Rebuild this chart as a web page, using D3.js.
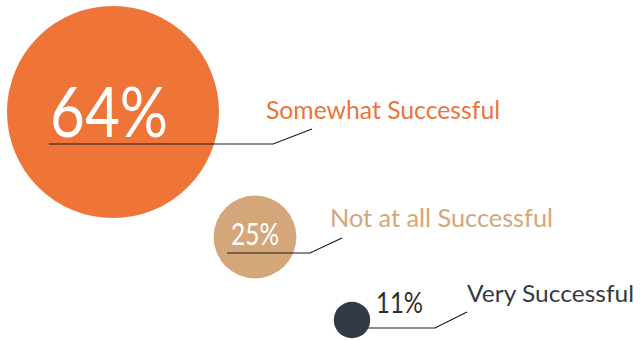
<!DOCTYPE html>
<html>
<head>
<meta charset="utf-8">
<script src="https://cdn.jsdelivr.net/npm/d3@7"></script>
<style>
  body { margin: 0; background: #fff; }
  svg { display: block; }
  text { font-family: Lato, "Noto Sans", sans-serif; font-weight: 400; }
</style>
</head>
<body>
<div id="chart"></div>
<script>
// survey answers
const categories = ["Somewhat Successful", "Not at all Successful", "Very Successful"]
const values = [64, 25, 11]
const valueLabels = ["64%", "25%", "11%"]

const colors = ["#ee7437", "#d4a77a", "#323a46"]
const pctColors = ["#ffffff", "#ffffff", "#2d2d2d"]
const labelColors = ["#ee7437", "#d4a77a", "#323a46"]

// layout of each bubble: centre, pct text, leader line, label (px)
const layout = [
    { cx: 113, cy: 112, pct: [50, 137, 70, 118], lineStart: 49, lineY: 144, elbow: 273, end: [312, 129], label: [266, 119, 25, 234] },
    { cx: 255, cy: 237, pct: [231, 245, 30, 48], lineStart: 227, lineY: 253, elbow: 310, end: [342, 238], label: [330, 227, 25, 223] },
    { cx: 352, cy: 320, pct: [376, 313, 28, 47], lineStart: 352, lineY: 328, elbow: 435, end: [467, 312], label: [467, 302, 24, 167] }
]

const width = 641, height = 340

const svg = d3.select("#chart").append("svg")
    .attr("width", width)
    .attr("height", height)

// bubble radius is linear in the value
const r = d3.scaleLinear().domain([0, 64]).range([0, 106])

const data = categories.map(function (c, i) {
    return { name: c, value: values[i], pct: valueLabels[i], i: i, l: layout[i] }
})

const g = svg.selectAll(".bubble")
    .data(data)
    .enter()
    .append("g")
    .attr("class", "bubble")

g.append("circle")
    .attr("cx", function (d) { return d.l.cx })
    .attr("cy", function (d) { return d.l.cy })
    .attr("r", function (d) { return r(d.value) })
    .attr("fill", function (d) { return colors[d.i] })

g.append("polyline")
    .attr("points", function (d) {
        return [[d.l.lineStart, d.l.lineY], [d.l.elbow, d.l.lineY], d.l.end].map(function (p) { return p.join(",") }).join(" ")
    })
    .attr("fill", "none")
    .attr("stroke", "#1a1a1a")
    .attr("stroke-width", 1.2)

// small bubble sits on top of its leader line
g.filter(function (d) { return d.i == 2 }).select("circle").raise()

g.append("text")
    .attr("x", function (d) { return d.l.pct[0] })
    .attr("y", function (d) { return d.l.pct[1] })
    .attr("font-size", function (d) { return d.l.pct[2] })
    .attr("textLength", function (d) { return d.l.pct[3] })
    .attr("lengthAdjust", "spacingAndGlyphs")
    .attr("fill", function (d) { return pctColors[d.i] })
    .text(function (d) { return d.pct })

g.append("text")
    .attr("x", function (d) { return d.l.label[0] })
    .attr("y", function (d) { return d.l.label[1] })
    .attr("font-size", function (d) { return d.l.label[2] })
    .attr("textLength", function (d) { return d.l.label[3] })
    .attr("lengthAdjust", "spacingAndGlyphs")
    .attr("fill", function (d) { return labelColors[d.i] })
    .text(function (d) { return d.name })
</script>
</body>
</html>
